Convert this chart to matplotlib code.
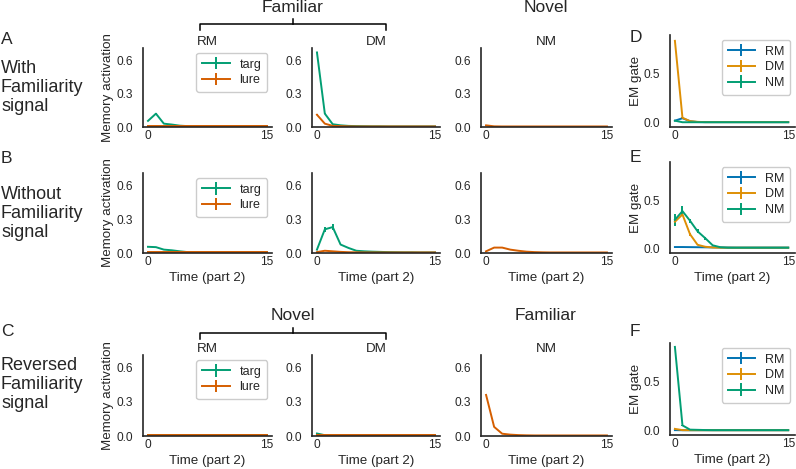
import numpy as np
import matplotlib
matplotlib.use("Agg")
import matplotlib.pyplot as plt
from matplotlib.lines import Line2D

plt.rcParams['font.family'] = ['Liberation Sans', 'DejaVu Sans']
plt.rcParams['text.color'] = '#262626'
plt.rcParams['axes.labelcolor'] = '#262626'
plt.rcParams['xtick.color'] = '#262626'
plt.rcParams['ytick.color'] = '#262626'

# ---------------- data ----------------
time = np.arange(16)
xticks = [0, 15]
mem_yticks = [0.0, 0.3, 0.6]
em_yticks = [0.0, 0.5]
conds = ["RM", "DM", "NM"]

# Row A: with familiarity signal
A_RM_targ = [0.055, 0.12, 0.03, 0.022, 0.012, 0.008, 0.006, 0.005, 0.005, 0.005, 0.005, 0.005, 0.005, 0.005, 0.005, 0.005]
A_RM_lure = [0.006, 0.006, 0.006, 0.006, 0.006, 0.006, 0.006, 0.006, 0.006, 0.006, 0.006, 0.006, 0.006, 0.006, 0.006, 0.006]
A_DM_targ = [0.67, 0.12, 0.025, 0.015, 0.01, 0.008, 0.007, 0.006, 0.006, 0.005, 0.005, 0.005, 0.005, 0.005, 0.005, 0.005]
A_DM_lure = [0.11, 0.03, 0.01, 0.008, 0.006, 0.005, 0.005, 0.005, 0.005, 0.005, 0.005, 0.005, 0.005, 0.005, 0.005, 0.005]
A_NM_lure = [0.015, 0.006, 0.005, 0.005, 0.005, 0.005, 0.005, 0.005, 0.005, 0.005, 0.005, 0.005, 0.005, 0.005, 0.005, 0.005]
D_RM = [0.02, 0.045, 0.015, 0.006, 0.005, 0.005, 0.005, 0.005, 0.005, 0.005, 0.005, 0.005, 0.005, 0.005, 0.005, 0.005]
D_DM = [0.84, 0.05, 0.015, 0.008, 0.005, 0.005, 0.005, 0.005, 0.005, 0.005, 0.005, 0.005, 0.005, 0.005, 0.005, 0.005]
D_NM = [0.02, 0.004, 0.004, 0.004, 0.004, 0.004, 0.004, 0.004, 0.004, 0.004, 0.004, 0.004, 0.004, 0.004, 0.004, 0.004]

# Row B: without familiarity signal
B_RM_targ = [0.055, 0.052, 0.03, 0.024, 0.015, 0.008, 0.006, 0.005, 0.005, 0.005, 0.005, 0.005, 0.005, 0.005, 0.005, 0.005]
B_RM_lure = [0.005, 0.005, 0.005, 0.005, 0.005, 0.005, 0.005, 0.005, 0.005, 0.005, 0.005, 0.005, 0.005, 0.005, 0.005, 0.005]
B_DM_targ = [0.03, 0.21, 0.23, 0.075, 0.045, 0.02, 0.015, 0.012, 0.01, 0.008, 0.007, 0.006, 0.006, 0.005, 0.005, 0.005]
B_DM_targ_err = [0.005, 0.02, 0.025, 0.008, 0.005, 0.003, 0.002, 0.002, 0.002, 0.002, 0.002, 0.002, 0.002, 0.002, 0.002, 0.002]
B_DM_lure = [0.008, 0.02, 0.015, 0.01, 0.007, 0.006, 0.005, 0.005, 0.005, 0.005, 0.005, 0.005, 0.005, 0.005, 0.005, 0.005]
B_NM_lure = [0.015, 0.048, 0.048, 0.03, 0.02, 0.012, 0.008, 0.006, 0.005, 0.005, 0.005, 0.005, 0.005, 0.005, 0.005, 0.005]
E_RM = [0.017, 0.017, 0.016, 0.015, 0.014, 0.013, 0.012, 0.012, 0.011, 0.011, 0.011, 0.011, 0.011, 0.011, 0.011, 0.011]
E_DM = [0.28, 0.355, 0.15, 0.04, 0.02, 0.012, 0.01, 0.01, 0.01, 0.01, 0.01, 0.01, 0.01, 0.01, 0.01, 0.01]
E_DM_err = [0.03, 0.02, 0.015, 0.006, 0.003, 0.002, 0.002, 0.002, 0.002, 0.002, 0.002, 0.002, 0.002, 0.002, 0.002, 0.002]
E_NM = [0.30, 0.39, 0.29, 0.18, 0.11, 0.035, 0.015, 0.01, 0.01, 0.01, 0.01, 0.01, 0.01, 0.01, 0.01, 0.01]
E_NM_err = [0.06, 0.05, 0.02, 0.02, 0.015, 0.005, 0.003, 0.002, 0.002, 0.002, 0.002, 0.002, 0.002, 0.002, 0.002, 0.002]

# Row C: reversed familiarity signal
C_RM_targ = [0.005, 0.005, 0.005, 0.005, 0.005, 0.005, 0.005, 0.005, 0.005, 0.005, 0.005, 0.005, 0.005, 0.005, 0.005, 0.005]
C_RM_lure = [0.006, 0.006, 0.006, 0.006, 0.006, 0.006, 0.006, 0.006, 0.006, 0.006, 0.006, 0.006, 0.006, 0.006, 0.006, 0.006]
C_DM_targ = [0.022, 0.007, 0.005, 0.005, 0.005, 0.005, 0.005, 0.005, 0.005, 0.005, 0.005, 0.005, 0.005, 0.005, 0.005, 0.005]
C_DM_lure = [0.006, 0.006, 0.006, 0.006, 0.006, 0.006, 0.006, 0.006, 0.006, 0.006, 0.006, 0.006, 0.006, 0.006, 0.006, 0.006]
C_NM_lure = [0.36, 0.08, 0.02, 0.012, 0.008, 0.006, 0.005, 0.005, 0.005, 0.005, 0.005, 0.005, 0.005, 0.005, 0.005, 0.005]
F_RM = [0.005, 0.004, 0.004, 0.004, 0.004, 0.004, 0.004, 0.004, 0.004, 0.004, 0.004, 0.004, 0.004, 0.004, 0.004, 0.004]
F_DM = [0.018, 0.005, 0.004, 0.004, 0.004, 0.004, 0.004, 0.004, 0.004, 0.004, 0.004, 0.004, 0.004, 0.004, 0.004, 0.004]
F_NM = [0.86, 0.054, 0.01, 0.008, 0.006, 0.005, 0.005, 0.005, 0.005, 0.005, 0.005, 0.005, 0.005, 0.005, 0.005, 0.005]

small_err = [0.003, 0.003, 0.002, 0.002, 0.002, 0.002, 0.002, 0.002, 0.002, 0.002, 0.002, 0.002, 0.002, 0.002, 0.002, 0.002]

row_labels = ["A", "B", "C"]
row_texts = ["With\nFamiliarity\nsignal", "Without\nFamiliarity\nsignal", "Reversed\nFamiliarity\nsignal"]
em_labels = ["D", "E", "F"]

mem_data = [
    {"RM": (A_RM_targ, small_err, A_RM_lure), "DM": (A_DM_targ, small_err, A_DM_lure), "NM": (None, None, A_NM_lure)},
    {"RM": (B_RM_targ, small_err, B_RM_lure), "DM": (B_DM_targ, B_DM_targ_err, B_DM_lure), "NM": (None, None, B_NM_lure)},
    {"RM": (C_RM_targ, small_err, C_RM_lure), "DM": (C_DM_targ, small_err, C_DM_lure), "NM": (None, None, C_NM_lure)},
]
em_data = [
    [(D_RM, small_err), (D_DM, small_err), (D_NM, small_err)],
    [(E_RM, small_err), (E_DM, E_DM_err), (E_NM, E_NM_err)],
    [(F_RM, small_err), (F_DM, small_err), (F_NM, small_err)],
]

# ---------------- style ----------------
C_TARG = "#029E73"
C_LURE = "#D55E00"
EM_COLORS = ["#0173B2", "#DE8F05", "#029E73"]
DARK = "#262626"
LW = 1.4
TICK_FS = 8.6
LAB_FS = 9.6
LEG_FS = 9

W, H = 796, 469
fig = plt.figure(figsize=(W / 100, H / 100), dpi=100)

def ax_at(l, t, r, b):
    return fig.add_axes([l / W, 1 - b / H, (r - l) / W, (b - t) / H])

def style(ax):
    for s in ["top", "right"]:
        ax.spines[s].set_visible(False)
    for s in ["left", "bottom"]:
        ax.spines[s].set_color(DARK)
        ax.spines[s].set_linewidth(1.2)
    ax.tick_params(axis="both", length=0, labelsize=TICK_FS)
    ax.tick_params(axis="y", pad=7)
    ax.tick_params(axis="x", pad=2)

def legend(ax):
    ax.legend(loc="upper right", fontsize=LEG_FS, handlelength=2.2, borderpad=0.45,
              labelspacing=0.3, handletextpad=0.8, frameon=True, edgecolor="#cccccc",
              framealpha=1, borderaxespad=0.4)

mem_cols = [(143, 272), (312, 440), (481, 612)]
mem_rows = [(48, 127), (173, 253), (355, 436)]
em_col = (670, 795)
em_rows = [(35, 127), (162, 253), (343, 435)]

for r in range(3):
    for c, cond in enumerate(conds):
        ax = ax_at(mem_cols[c][0], mem_rows[r][0], mem_cols[c][1], mem_rows[r][1])
        style(ax)
        targ, terr, lure = mem_data[r][cond]
        if targ is not None:
            ax.errorbar(time, targ, yerr=terr, color=C_TARG, lw=LW, elinewidth=LW, label="targ")
        ax.errorbar(time, lure, yerr=small_err, color=C_LURE, lw=LW, elinewidth=LW, label="lure")
        ax.set_xlim(-0.63, 15.63)
        ax.set_ylim(0, 0.71)
        ax.set_xticks(xticks)
        ax.set_yticks(mem_yticks)
        ax.set_yticklabels(["0.0", "0.3", "0.6"])
        if r != 1:
            ax.set_title(cond, fontsize=LAB_FS, pad=2, color=DARK)
        if r > 0:
            ax.set_xlabel("Time (part 2)", fontsize=LAB_FS, labelpad=3)
        if c == 0:
            ax.set_ylabel("Memory activation", fontsize=LAB_FS, labelpad=2)
            legend(ax)

    ax = ax_at(em_col[0], em_rows[r][0], em_col[1], em_rows[r][1])
    style(ax)
    for k, cond in enumerate(conds):
        vals, err = em_data[r][k]
        ax.errorbar(time, vals, yerr=err, color=EM_COLORS[k], lw=LW, elinewidth=LW, label=cond)
    ax.set_xlim(-0.65, 15.9)
    ax.set_ylim(-0.045, 0.9)
    ax.set_xticks(xticks)
    ax.set_yticks(em_yticks)
    ax.set_yticklabels(["0.0", "0.5"])
    ax.set_ylabel("EM gate", fontsize=LAB_FS, labelpad=1)
    if r > 0:
        ax.set_xlabel("Time (part 2)", fontsize=LAB_FS, labelpad=3)
    legend(ax)

    # row labels
    fig.text(1 / W, 1 - [39, 158, 332][r] / H, row_labels[r], fontsize=12.5, va="center", ha="left")
    fig.text(1 / W, 1 - [60, 186, 357][r] / H, row_texts[r], fontsize=13, va="top", ha="left",
             linespacing=1.15)
    fig.text(630 / W, 1 - [38, 157, 332][r] / H, em_labels[r], fontsize=12.5, va="center", ha="left")

# brackets and group labels
def bracket(y, label_left, label_right, ytext):
    x0, x1, xm = 200, 386, 293
    tr = fig.transFigure
    pts = [(x0, y + 6), (x0, y), (x1, y), (x1, y + 6)]
    fig.add_artist(Line2D([p[0] / W for p in pts], [1 - p[1] / H for p in pts], color="black", lw=1.1, transform=tr))
    fig.add_artist(Line2D([xm / W, xm / W], [1 - y / H, 1 - (y - 5) / H], color="black", lw=1.1, transform=tr))
    fig.text(xm / W, 1 - ytext / H, label_left, fontsize=12.5, ha="center", va="center")
    fig.text(546 / W, 1 - ytext / H, label_right, fontsize=12.5, ha="center", va="center")

bracket(24, "Familiar", "Novel", 8)
bracket(333, "Novel", "Familiar", 316)

fig.savefig("out.png", dpi=100)
